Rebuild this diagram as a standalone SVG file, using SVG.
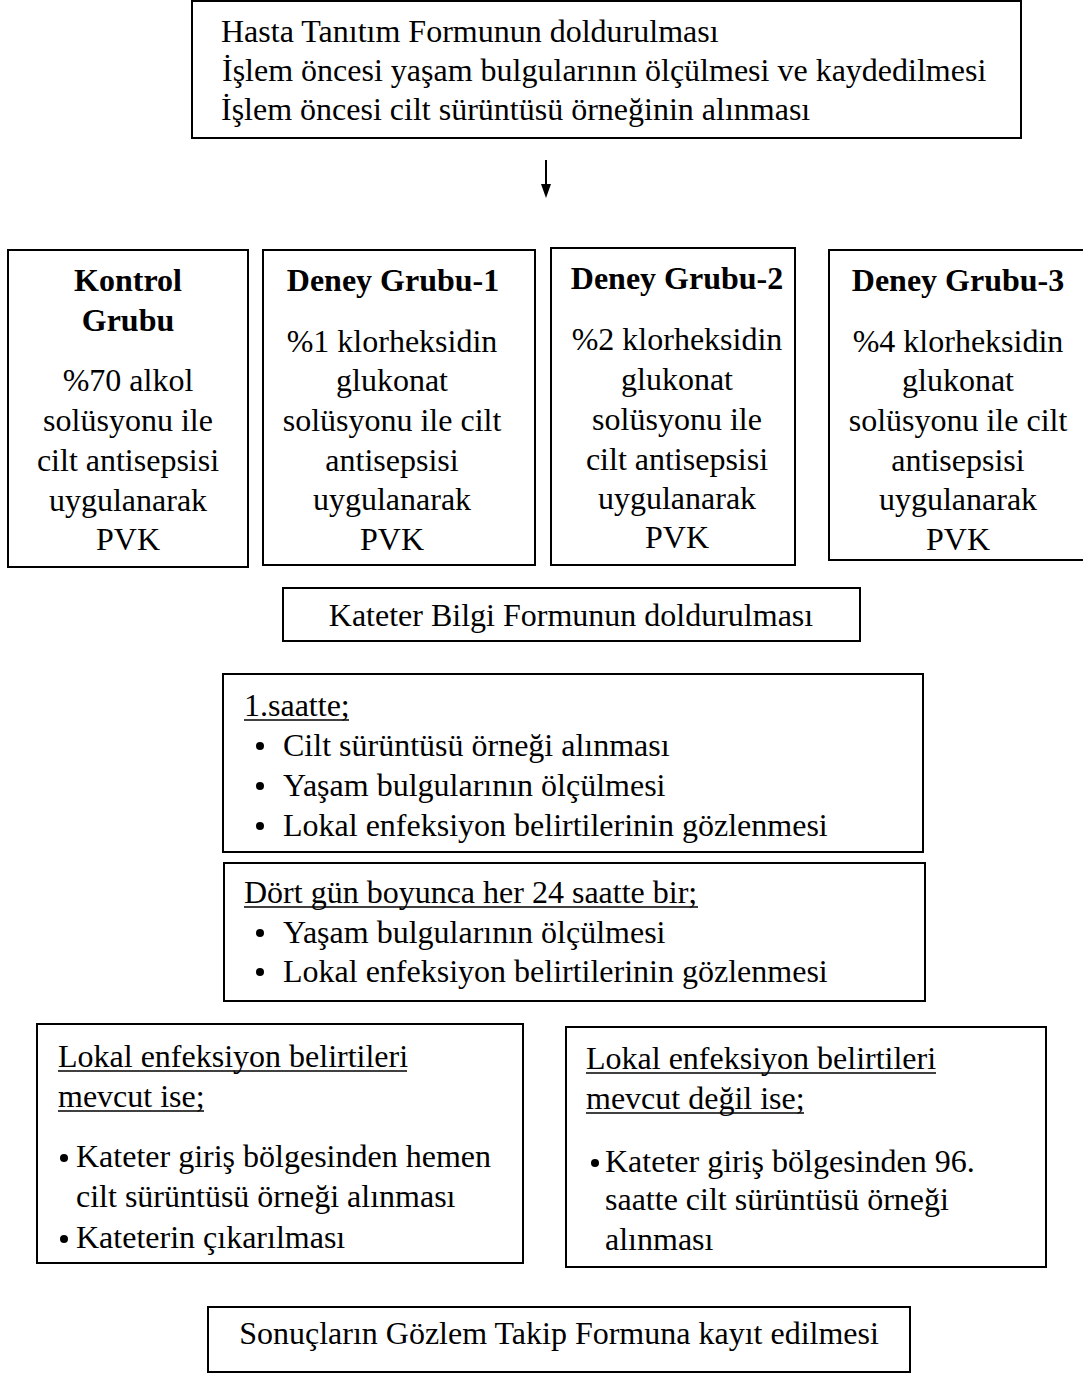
<svg xmlns="http://www.w3.org/2000/svg" width="1083" height="1374" viewBox="0 0 1083 1374">
<style>
text{font-family:"Liberation Serif","Times New Roman",serif;font-size:32px;fill:#000}
.c{text-anchor:middle}
.b{font-weight:bold}
.box{fill:#fff;stroke:#000;stroke-width:2}
.u{stroke:#000;stroke-width:1.5}
</style>
<rect width="1083" height="1374" fill="#fff"/>
<g id="connectors">
<line x1="546" y1="160" x2="546" y2="186" stroke="#000" stroke-width="2"/>
<path d="M541,184 L551,184 L546,198 Z" fill="#000"/>
</g>
<g id="n-top">
<rect class="box" x="192" y="1" width="829" height="137"/>
<text x="221" y="42">Hasta Tanıtım Formunun doldurulması</text>
<text x="222" y="81">İşlem öncesi yaşam bulgularının ölçülmesi ve kaydedilmesi</text>
<text x="221" y="120">İşlem öncesi cilt sürüntüsü örneğinin alınması</text>
</g>
<g id="n-kontrol">
<rect class="box" x="8" y="250" width="240" height="317"/>
<text class="c b" x="128" y="291">Kontrol</text>
<text class="c b" x="128" y="331">Grubu</text>
<text class="c" x="128" y="391">%70 alkol</text>
<text class="c" x="128" y="431">solüsyonu ile</text>
<text class="c" x="128" y="471">cilt antisepsisi</text>
<text class="c" x="128" y="511">uygulanarak</text>
<text class="c" x="128" y="550">PVK</text>
</g>
<g id="n-deney1">
<rect class="box" x="263" y="250" width="272" height="315"/>
<text class="c b" x="393" y="291">Deney Grubu-1</text>
<text class="c" x="392" y="352">%1 klorheksidin</text>
<text class="c" x="392" y="391">glukonat</text>
<text class="c" x="392" y="431">solüsyonu ile cilt</text>
<text class="c" x="392" y="471">antisepsisi</text>
<text class="c" x="392" y="510">uygulanarak</text>
<text class="c" x="392" y="550">PVK</text>
</g>
<g id="n-deney2">
<rect class="box" x="551" y="248" width="244" height="317"/>
<text class="c b" x="677" y="289">Deney Grubu-2</text>
<text class="c" x="677" y="350">%2 klorheksidin</text>
<text class="c" x="677" y="390">glukonat</text>
<text class="c" x="677" y="430">solüsyonu ile</text>
<text class="c" x="677" y="470">cilt antisepsisi</text>
<text class="c" x="677" y="509">uygulanarak</text>
<text class="c" x="677" y="548">PVK</text>
</g>
<g id="n-deney3">
<rect class="box" x="829" y="250" width="260" height="310"/>
<text class="c b" x="958" y="291">Deney Grubu-3</text>
<text class="c" x="958" y="352">%4 klorheksidin</text>
<text class="c" x="958" y="391">glukonat</text>
<text class="c" x="958" y="431">solüsyonu ile cilt</text>
<text class="c" x="958" y="471">antisepsisi</text>
<text class="c" x="958" y="510">uygulanarak</text>
<text class="c" x="958" y="550">PVK</text>
</g>
<g id="n-kateter">
<rect class="box" x="283" y="588" width="577" height="53"/>
<text class="c" x="571" y="626">Kateter Bilgi Formunun doldurulması</text>
</g>
<g id="n-saat1">
<rect class="box" x="223" y="674" width="700" height="178"/>
<text x="244" y="716">1.saatte;</text>
<line class="u" x1="244" y1="720" x2="349" y2="720"/>
<circle cx="260" cy="746" r="4"/>
<text x="283" y="756">Cilt sürüntüsü örneği alınması</text>
<circle cx="260" cy="786" r="4"/>
<text x="283" y="796">Yaşam bulgularının ölçülmesi</text>
<circle cx="260" cy="826" r="4"/>
<text x="283" y="836">Lokal enfeksiyon belirtilerinin gözlenmesi</text>
</g>
<g id="n-dortgun">
<rect class="box" x="224" y="863" width="701" height="138"/>
<text x="244" y="903">Dört gün boyunca her 24 saatte bir;</text>
<line class="u" x1="244" y1="907" x2="698" y2="907"/>
<circle cx="260" cy="933" r="4"/>
<text x="283" y="943">Yaşam bulgularının ölçülmesi</text>
<circle cx="260" cy="972" r="4"/>
<text x="283" y="982">Lokal enfeksiyon belirtilerinin gözlenmesi</text>
</g>
<g id="n-mevcut">
<rect class="box" x="37" y="1024" width="486" height="239"/>
<text x="58" y="1067">Lokal enfeksiyon belirtileri</text>
<line class="u" x1="58" y1="1071" x2="407" y2="1071"/>
<text x="58" y="1107">mevcut ise;</text>
<line class="u" x1="58" y1="1111" x2="204" y2="1111"/>
<circle cx="64" cy="1158" r="4"/>
<text x="76" y="1167">Kateter giriş bölgesinden hemen</text>
<text x="76" y="1207">cilt sürüntüsü örneği alınması</text>
<circle cx="64" cy="1239" r="4"/>
<text x="76" y="1248">Kateterin çıkarılması</text>
</g>
<g id="n-degil">
<rect class="box" x="566" y="1027" width="480" height="240"/>
<text x="586" y="1069">Lokal enfeksiyon belirtileri</text>
<line class="u" x1="586" y1="1073" x2="936" y2="1073"/>
<text x="586" y="1109">mevcut değil ise;</text>
<line class="u" x1="586" y1="1113" x2="804" y2="1113"/>
<circle cx="595" cy="1163" r="4"/>
<text x="605" y="1172">Kateter giriş bölgesinden 96.</text>
<text x="605" y="1210">saatte cilt sürüntüsü örneği</text>
<text x="605" y="1250">alınması</text>
</g>
<g id="n-sonuc">
<rect class="box" x="208" y="1307" width="702" height="65"/>
<text class="c" x="559" y="1344">Sonuçların Gözlem Takip Formuna kayıt edilmesi</text>
</g>
</svg>
